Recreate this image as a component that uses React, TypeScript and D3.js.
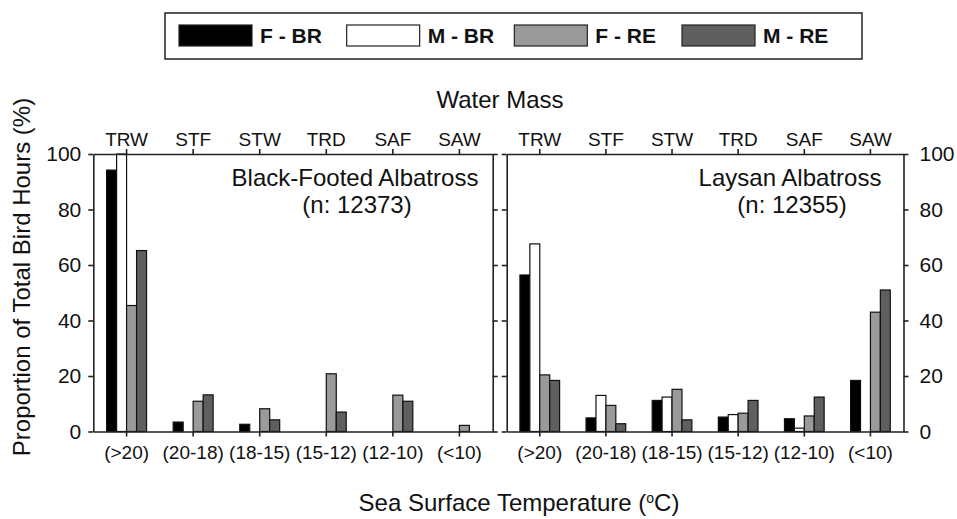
import { useRef, useEffect } from 'react'
import * as d3 from 'd3'

const categories = ['(>20)', '(20-18)', '(18-15)', '(15-12)', '(12-10)', '(<10)']
const waterMasses = ['TRW', 'STF', 'STW', 'TRD', 'SAF', 'SAW']
const seriesNames = ['F - BR', 'M - BR', 'F - RE', 'M - RE']
const seriesColors = ['#000000', '#ffffff', '#9a9a9a', '#5f5f5f']
const yTicks = [0, 20, 40, 60, 80, 100]

// Black-Footed Albatross (n: 12373)
const bfFBR = [94.2, 3.4, 2.6, 0, 0, 0]
const bfMBR = [100, 0, 0, 0, 0, 0]
const bfFRE = [45.4, 10.9, 8.2, 20.8, 13.1, 2.2]
const bfMRE = [65.2, 13.2, 4.2, 7.0, 10.9, 0]

// Laysan Albatross (n: 12355)
const laFBR = [56.4, 4.9, 11.2, 5.2, 4.6, 18.4]
const laMBR = [67.6, 13.0, 12.4, 6.1, 1.2, 0]
const laFRE = [20.4, 9.4, 15.2, 6.6, 5.6, 43.0]
const laMRE = [18.4, 2.8, 4.2, 11.2, 12.4, 51.0]

const FONT = '"Liberation Sans", Arial, sans-serif'

export default function App() {
  const svgRef = useRef(null)

  useEffect(() => {
    const width = 957
    const height = 519
    const svg = d3.select(svgRef.current)
    svg.selectAll('*').remove()
    svg.attr('width', width).attr('height', height).style('font-family', FONT)

    const top = 154
    const bottom = 431.5
    const y = d3.scaleLinear().domain([0, 100]).range([bottom, top])

    const panels = [
      { x0: 93.3, x1: 492.7, side: 'left', title: 'Black-Footed Albatross', n: '(n: 12373)', cx: 355,
        values: [bfFBR, bfMBR, bfFRE, bfMRE] },
      { x0: 506.7, x1: 903.5, side: 'right', title: 'Laysan Albatross', n: '(n: 12355)', cx: 790,
        values: [laFBR, laMBR, laFRE, laMRE] },
    ]

    panels.forEach((p) => {
      const x = d3.scaleBand().domain(categories).range([p.x0, p.x1]).padding(0)
      const xTop = d3.scaleBand().domain(waterMasses).range([p.x0, p.x1]).padding(0)
      const half = x.bandwidth() * 0.3
      const x1 = d3.scaleBand().domain(seriesNames).range([-half, half]).padding(0)

      const g = svg.append('g')

      // Bars
      const rows = categories.flatMap((c, i) =>
        seriesNames.map((s, j) => ({ c, s, j, v: p.values[j][i] })),
      ).filter((d) => d.v > 0)

      g.selectAll('.bar')
        .data(rows)
        .join('rect')
        .attr('x', (d) => x(d.c) + x.bandwidth() / 2 + x1(d.s))
        .attr('y', (d) => y(d.v))
        .attr('width', x1.bandwidth())
        .attr('height', (d) => y(0) - y(d.v))
        .attr('fill', (d) => seriesColors[d.j])
        .attr('stroke', '#111')
        .attr('stroke-width', 1.2)

      // Bottom axis (temperature)
      const bAxis = g.append('g')
        .attr('transform', `translate(0,${bottom})`)
        .call(d3.axisBottom(x).tickSize(5).tickSizeOuter(0).tickPadding(9))
      bAxis.selectAll('text').attr('font-size', 19).attr('fill', '#111').attr('font-family', FONT)

      // Top axis (water mass)
      const tAxis = g.append('g')
        .attr('transform', `translate(0,${top})`)
        .call(d3.axisTop(xTop).tickSize(5).tickSizeOuter(0).tickPadding(3))
      tAxis.selectAll('text').attr('font-size', 19).attr('fill', '#111').attr('font-family', FONT)

      // Y axes on both sides
      const leftAxis = p.side === 'left'
        ? d3.axisLeft(y).tickValues(yTicks).tickSize(5).tickSizeOuter(0).tickPadding(7)
        : d3.axisLeft(y).tickValues(yTicks).tickSize(5).tickSizeOuter(0).tickFormat(() => '')
      const rightAxis = p.side === 'right'
        ? d3.axisRight(y).tickValues(yTicks).tickSize(5).tickSizeOuter(0).tickPadding(11)
        : d3.axisRight(y).tickValues(yTicks).tickSize(5).tickSizeOuter(0).tickFormat(() => '')

      const la = g.append('g').attr('transform', `translate(${p.x0},0)`).call(leftAxis)
      const ra = g.append('g').attr('transform', `translate(${p.x1},0)`).call(rightAxis)
      ;[la, ra].forEach((a) =>
        a.selectAll('text').attr('font-size', 21).attr('fill', '#111').attr('font-family', FONT),
      )

      g.selectAll('.domain, .tick line').attr('stroke', '#222').attr('stroke-width', 1.6)

      // Panel label
      g.append('text')
        .attr('x', p.cx)
        .attr('y', 186)
        .attr('text-anchor', 'middle')
        .attr('font-size', 24)
        .attr('fill', '#111')
        .text(p.title)
      g.append('text')
        .attr('x', p.cx + 2)
        .attr('y', 213)
        .attr('text-anchor', 'middle')
        .attr('font-size', 24)
        .attr('fill', '#111')
        .text(p.n)
    })

    // Titles
    svg.append('text')
      .attr('x', 500)
      .attr('y', 108)
      .attr('text-anchor', 'middle')
      .attr('font-size', 24)
      .attr('fill', '#111')
      .text('Water Mass')

    const xt = svg.append('text')
      .attr('x', 519)
      .attr('y', 511)
      .attr('text-anchor', 'middle')
      .attr('font-size', 24)
      .attr('fill', '#111')
    xt.append('tspan').text('Sea Surface Temperature (')
    xt.append('tspan').attr('font-size', 14).attr('dy', -8).text('o')
    xt.append('tspan').attr('dy', 8).text('C)')

    svg.append('text')
      .attr('transform', 'translate(30,277) rotate(-90)')
      .attr('text-anchor', 'middle')
      .attr('font-size', 24)
      .attr('fill', '#111')
      .text('Proportion of Total Bird Hours (%)')

    // Legend
    const legend = svg.append('g')
    legend.append('rect')
      .attr('x', 165).attr('y', 13).attr('width', 697).attr('height', 46)
      .attr('fill', '#fff').attr('stroke', '#222').attr('stroke-width', 1.5)

    const lx = d3.scalePoint().domain(seriesNames).range([179, 682])
    const items = legend.selectAll('.item')
      .data(seriesNames)
      .join('g')
      .attr('transform', (d) => `translate(${lx(d)},25)`)
    items.append('rect')
      .attr('width', 73).attr('height', 21)
      .attr('fill', (_, i) => seriesColors[i])
      .attr('stroke', '#222').attr('stroke-width', 1.2)
    items.append('text')
      .attr('x', 81).attr('y', 18)
      .attr('font-size', 21).attr('font-weight', 'bold').attr('fill', '#111')
      .text((d) => d)
  }, [])

  return <svg ref={svgRef} style={{ position: 'absolute', left: 0, top: 0 }} />
}
